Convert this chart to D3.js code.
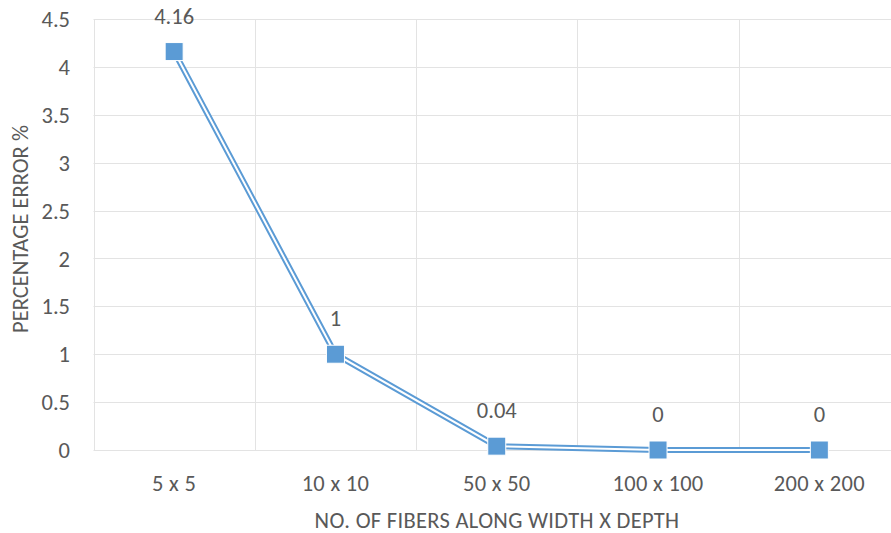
<!DOCTYPE html>
<html>
<head>
<meta charset="utf-8">
<script src="https://cdn.jsdelivr.net/npm/d3@7"></script>
<style>
  html, body { margin: 0; padding: 0; background: #fff; }
  svg { display: block; }
  text { font-family: Carlito, Lato, "Open Sans", sans-serif; fill: #595959; }
</style>
</head>
<body>
<svg id="chart" width="891" height="533"></svg>
<script>
// Fiber discretisation study: percentage error per grid size
const categories = ["5 x 5", "10 x 10", "50 x 50", "100 x 100", "200 x 200"];
const errorValues = [4.16, 1, 0.04, 0, 0];
const valueLabels = ["4.16", "1", "0.04", "0", "0"];
const yTicks = [0, 0.5, 1, 1.5, 2, 2.5, 3, 3.5, 4, 4.5];

const svg = d3.select("#chart");
const plot = { left: 93.5, right: 900, top: 19, bottom: 450 };
const blue = "#5B9BD5";
const grid = "#e3e3e3";
const fontSize = 22.5;

const x = d3.scaleBand().domain(categories).range([plot.left, plot.right]).paddingInner(0).paddingOuter(0);
const y = d3.scaleLinear().domain([0, 4.5]).range([plot.bottom, plot.top]);
const cx = d => x(d) + x.bandwidth() / 2;

// horizontal gridlines
svg.append("g").selectAll("line").data(yTicks).join("line")
  .attr("x1", plot.left).attr("x2", plot.right)
  .attr("y1", d => Math.round(y(d)) + 0.5).attr("y2", d => Math.round(y(d)) + 0.5)
  .attr("stroke", grid).attr("stroke-width", 1);

// vertical gridlines at category boundaries
const bounds = categories.map(c => x(c));
svg.append("g").selectAll("line").data(bounds).join("line")
  .attr("x1", d => Math.round(d) + 0.5).attr("x2", d => Math.round(d) + 0.5)
  .attr("y1", plot.top).attr("y2", plot.bottom)
  .attr("stroke", grid).attr("stroke-width", 1);

// y tick labels
svg.append("g").selectAll("text").data(yTicks).join("text")
  .attr("x", 70).attr("y", d => y(d))
  .attr("dy", "0.36em")
  .attr("text-anchor", "end")
  .attr("font-size", fontSize)
  .text(d => d);

// x tick labels
svg.append("g").selectAll("text").data(categories).join("text")
  .attr("x", d => cx(d)).attr("y", 491)
  .attr("text-anchor", "middle")
  .attr("font-size", fontSize)
  .attr("letter-spacing", 0.3)
  .text(d => d);

// axis titles
svg.append("text")
  .attr("x", 497).attr("y", 528)
  .attr("text-anchor", "middle")
  .attr("font-size", fontSize)
  .attr("letter-spacing", 0.3)
  .text("NO. OF FIBERS ALONG WIDTH X DEPTH");

svg.append("text")
  .attr("transform", "translate(28,229) rotate(-90)")
  .attr("text-anchor", "middle")
  .attr("font-size", fontSize)
  .text("PERCENTAGE ERROR %");

// double (compound) line: wide blue stroke with a white core
const pts = categories.map((c, i) => [cx(c), y(errorValues[i])]);
const line = d3.line();
svg.append("path").attr("d", line(pts))
  .attr("fill", "none").attr("stroke", blue).attr("stroke-width", 6)
  .attr("stroke-linejoin", "miter");
svg.append("path").attr("d", line(pts))
  .attr("fill", "none").attr("stroke", "#fff").attr("stroke-width", 2)
  .attr("stroke-linejoin", "miter");

// square markers
const size = 18;
svg.append("g").selectAll("rect").data(pts).join("rect")
  .attr("x", d => d[0] - size / 2).attr("y", d => d[1] - size / 2)
  .attr("width", size).attr("height", size)
  .attr("fill", blue).attr("stroke", "#fff").attr("stroke-width", 1);

// data labels
svg.append("g").selectAll("text").data(pts).join("text")
  .attr("x", d => d[0]).attr("y", d => d[1] - 28)
  .attr("text-anchor", "middle")
  .attr("font-size", fontSize)
  .text((d, i) => valueLabels[i]);
</script>
</body>
</html>
